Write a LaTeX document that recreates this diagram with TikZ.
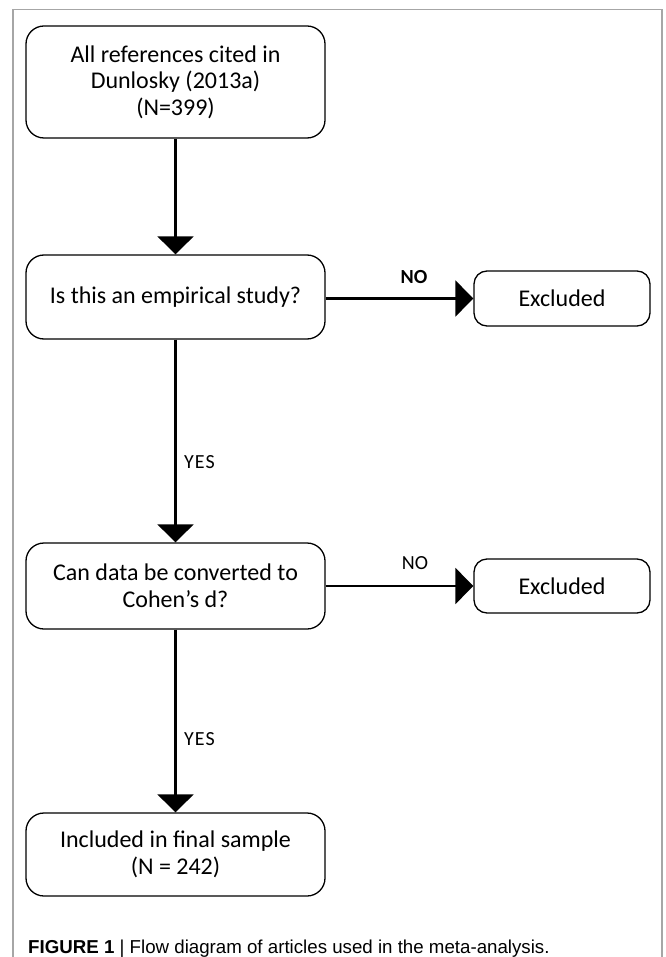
\documentclass[tikz,border=0pt]{standalone}
\usepackage{fontspec}
\setmainfont{Carlito}
\newfontfamily\capfont{Liberation Sans}
\usetikzlibrary{arrows.meta}
\begin{document}
\begin{tikzpicture}[x=1pt,y=-1pt,
  bigbox/.style={draw,line width=1.3pt,rounded corners=18pt,minimum width=299pt,inner sep=0pt,align=center,font=\fontsize{24}{26.5}\selectfont},
  smallbox/.style={draw,line width=1.3pt,rounded corners=13pt,minimum width=176pt,inner sep=0pt,align=center,font=\fontsize{24}{26.5}\selectfont},
  conn/.style={line width=2.2pt,-{Triangle[width=36pt,length=18pt]}},
  lbl/.style={font=\fontsize{20}{22}\selectfont,inner sep=0pt},
  frame/.style={draw=black!35,line width=1.5pt}]
\useasboundingbox (0,0) rectangle (665,957);
\draw[frame] (13,957) -- (13,9.5) -- (662,9.5) -- (662,957);
\node[bigbox,minimum height=112pt] (b1) at (175.5,82) {All references cited in\\Dunlosky (2013a)\\(N=399)};
\node[bigbox,minimum height=84pt] (b2) at (175.5,297) {Is this an empirical study?};
\node[bigbox,minimum height=86pt] (b3) at (175.5,586) {Can data be converted to\\Cohen’s d?};
\node[bigbox,minimum height=83pt] (b4) at (175.5,854.5) {Included in final sample\\(N = 242)};
\node[smallbox,minimum height=55pt] (e1) at (562,298.5) {Excluded};
\node[smallbox,minimum height=54pt] (e2) at (562,586) {Excluded};
\draw[conn] (b1.south) -- (b2.north);
\draw[conn] (b2.south) -- (b3.north);
\draw[conn] (b3.south) -- (b4.north);
\draw[conn] (b2.east |- e1.west) -- (e1.west);
\draw[conn] (b3.east |- e2.west) -- (e2.west);
\node[lbl,font=\bfseries\fontsize{20}{22}\selectfont] (no1) at (414,277) {NO};
\node[lbl] (no2) at (415,563) {NO};
\node[lbl,anchor=west] (yes1) at (184,462) {Y\kern1pt E\kern1pt S};
\node[lbl,anchor=west] (yes2) at (184,739) {Y\kern1pt E\kern1pt S};
\node[anchor=west,inner sep=0pt,font=\capfont\fontsize{18.7}{20}\selectfont] (cap) at (28,949) {\textbf{FIGURE 1} | Flow diagram of articles used in the meta-analysis.};
\end{tikzpicture}
\end{document}
